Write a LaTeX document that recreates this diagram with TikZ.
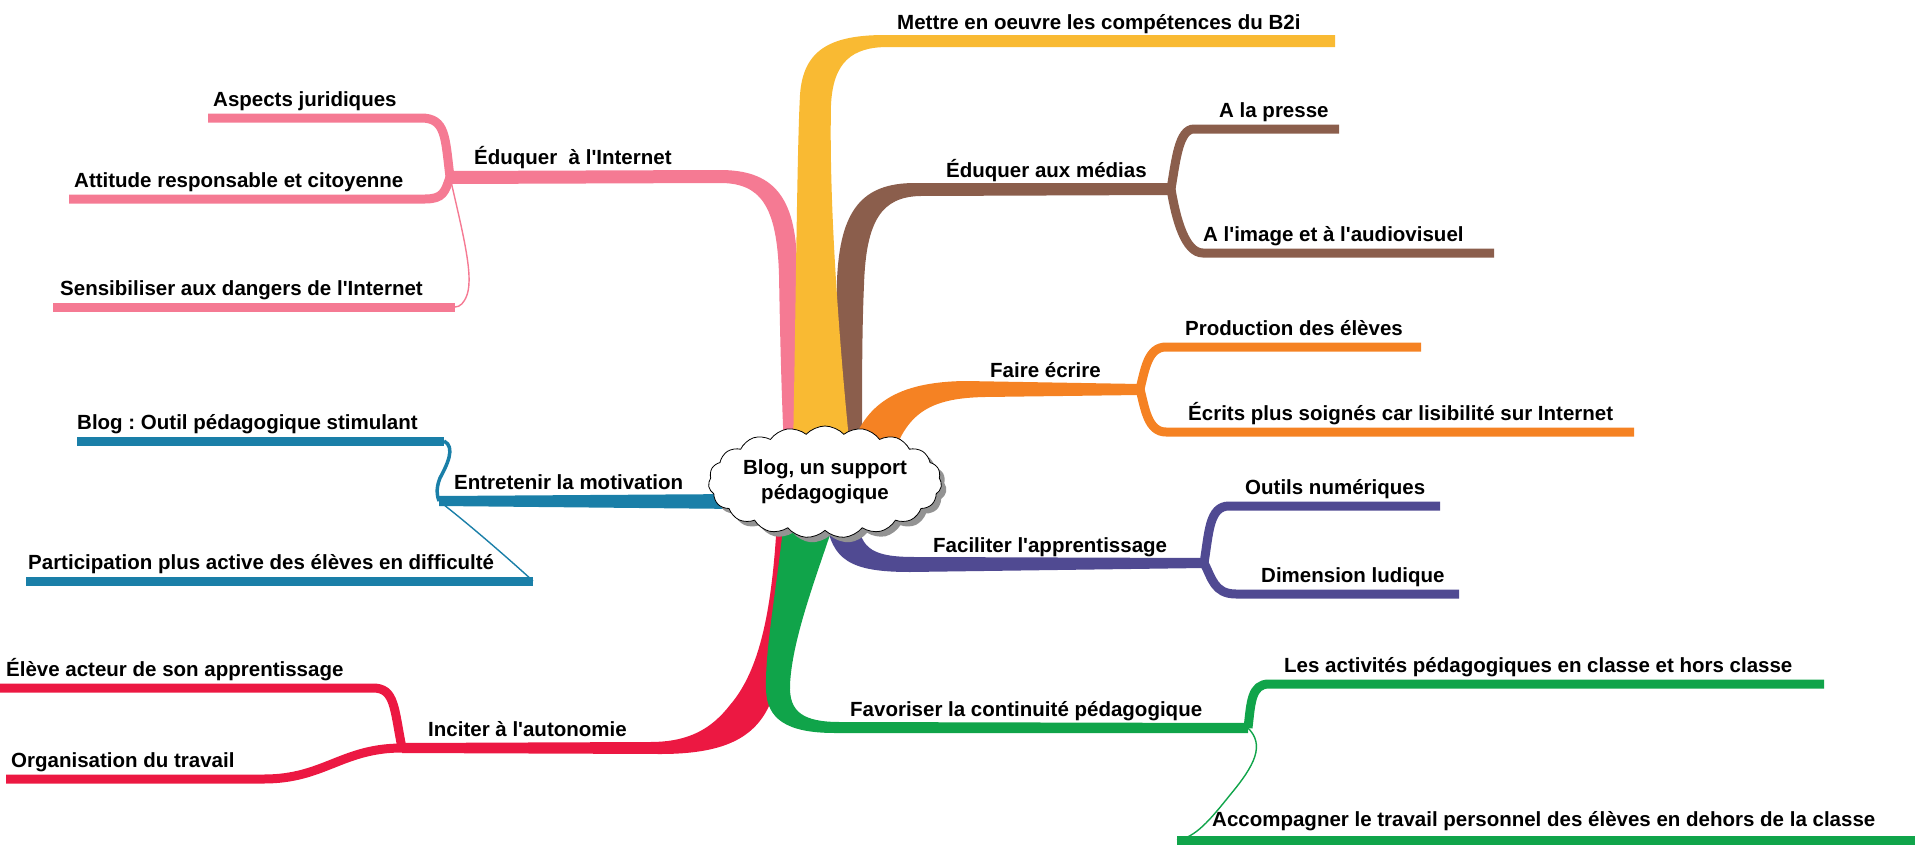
\documentclass[tikz,border=0pt]{standalone}
\usepackage{fontspec}
\setmainfont{Liberation Sans}[Ligatures=TeXOff]
\usetikzlibrary{shapes.symbols,shadows,calc}
\definecolor{cyel}{RGB}{249,186,51}
\definecolor{cpink}{RGB}{245,122,147}
\definecolor{cbrown}{RGB}{139,94,76}
\definecolor{corange}{RGB}{245,130,35}
\definecolor{cblue}{RGB}{26,127,168}
\definecolor{cpurple}{RGB}{80,74,146}
\definecolor{cred}{RGB}{236,24,66}
\definecolor{cgreen}{RGB}{16,164,74}
\frenchspacing
\tikzset{
  lbl/.style={anchor=base west,inner sep=0pt,font=\fontsize{20.5}{25}\selectfont\bfseries},
  subline/.style={line width=9pt},
  hair/.style={line width=1.4pt},
  wiggle/.style={line width=3.5pt},
}
\begin{document}
\begin{tikzpicture}[x=1pt,y=-1pt]
\useasboundingbox (0,0) rectangle (1915,846);
% branch points and line ends
\coordinate (pinkB) at (450,177);
\coordinate (brB) at (1171,189);
\coordinate (orB) at (1140,389);
\coordinate (blB) at (439,501);
\coordinate (puB) at (1204,563);
\coordinate (reB) at (402,748);
\coordinate (grB) at (1248,728);
\coordinate (yelE) at (1335,41);
\coordinate (aspL) at (208,118); \coordinate (aspR) at (421,118);
\coordinate (attL) at (69,199); \coordinate (attR) at (425,199);
\coordinate (sensL) at (53,307); \coordinate (sensR) at (455,307);
\coordinate (presL) at (1194,129); \coordinate (presR) at (1339,129);
\coordinate (imgL) at (1203,253); \coordinate (imgR) at (1494,253);
\coordinate (prodL) at (1166,347); \coordinate (prodR) at (1421,347);
\coordinate (ecrL) at (1166,432); \coordinate (ecrR) at (1634,432);
\coordinate (outL) at (1229,506); \coordinate (outR) at (1440,506);
\coordinate (dimL) at (1236,594); \coordinate (dimR) at (1459,594);
\coordinate (bloL) at (77,441); \coordinate (bloR) at (444,441);
\coordinate (parL) at (26,581); \coordinate (parR) at (533,581);
\coordinate (eleL) at (0,688); \coordinate (eleR) at (373,688);
\coordinate (orgL) at (6,779); \coordinate (orgR) at (264,779);
\coordinate (actL) at (1269,684); \coordinate (actR) at (1824,684);
\coordinate (accL) at (1177,840); \coordinate (accR) at (1915,840);

% main ribbons
\fill[cpink] ($(pinkB)+(0,-6)$) -- (720,170) .. controls (772,170) and (796,195) .. (797,265) .. controls (798,350) and (800,400) .. (802,450) -- (784,450) .. controls (781,380) and (780,330) .. (779,275) .. controls (777,205) and (760,183) .. (720,183) -- ($(pinkB)+(0,7)$) -- cycle;
\fill[cbrown] ($(brB)+(0,-6)$) -- (915,183) .. controls (862,183) and (840,210) .. (837,280) .. controls (835,350) and (840,400) .. (843,450) -- (862,450) .. controls (862,380) and (862,330) .. (864,285) .. controls (866,220) and (882,197) .. (920,196) -- ($(brB)+(0,6)$) -- cycle;
\fill[cyel] (793,450) .. controls (796,300) and (797,150) .. (800,95) .. controls (803,50) and (830,35) .. (885,35) -- ($(yelE)+(0,-6)$) -- ($(yelE)+(0,6)$) -- (888,47) .. controls (852,47) and (833,62) .. (831,105) .. controls (829,200) and (838,330) .. (850,450) -- cycle;
\fill[corange] (850,450) .. controls (865,405) and (895,382) .. (965,381) -- ($(orB)+(0,-5)$) -- ($(orB)+(0,6)$) -- (985,397) .. controls (935,398) and (910,410) .. (895,450) -- cycle;
\fill[cblue] ($(blB)+(0,-5)$) -- (740,494) -- (740,509) -- ($(blB)+(0,5)$) -- cycle;
\fill[cpurple] (826,520) .. controls (832,560) and (850,572) .. (910,572) -- ($(puB)+(0,5)$) -- ($(puB)+(0,-5)$) -- (915,557) .. controls (875,557) and (860,550) .. (858,520) -- cycle;
\fill[cred] (777,520) .. controls (772,610) and (760,670) .. (730,705) .. controls (712,728) and (690,742) .. (650,742) -- ($(reB)+(0,-5)$) -- ($(reB)+(0,5)$) -- (660,754) .. controls (730,754) and (762,735) .. (775,690) .. controls (783,650) and (786,600) .. (787,520) -- cycle;
\fill[cgreen] (784,520) .. controls (775,600) and (765,650) .. (766,690) .. controls (767,718) and (785,733) .. (835,733) -- ($(grB)+(0,5)$) -- ($(grB)+(0,-5)$) -- (840,722) .. controls (803,722) and (789,712) .. (790,685) .. controls (792,640) and (815,580) .. (835,520) -- cycle;

% sub-branches
\draw[subline,cpink] (aspL) -- (aspR) .. controls +(25,0) and +(-5,-40) .. (pinkB);
\draw[subline,cpink] (attL) -- (attR) .. controls +(18,0) and +(-5,15) .. (pinkB);
\draw[subline,cpink] (sensL) -- (sensR);
\draw[hair,cpink] (pinkB) .. controls (462,230) and (474,275) .. (467,295) .. controls (464,303) and (460,307) .. (sensR);
\draw[subline,cbrown] (presR) -- (presL) .. controls +(-15,0) and +(5,-30) .. (brB);
\draw[subline,cbrown] (imgR) -- (imgL) .. controls +(-18,0) and +(5,30) .. (brB);
\draw[subline,corange] (prodR) -- (prodL) .. controls +(-18,0) and +(5,-20) .. (orB);
\draw[subline,corange] (ecrR) -- (ecrL) .. controls +(-18,0) and +(5,20) .. (orB);
\draw[subline,cpurple] (outR) -- (outL) .. controls +(-20,0) and +(5,-30) .. (puB);
\draw[subline,cpurple] (dimR) -- (dimL) .. controls +(-22,0) and +(8,15) .. (puB);
\draw[subline,cblue] (bloL) -- (bloR);
\draw[wiggle,cblue] (bloR) .. controls (456,447) and (447,465) .. (440,478) .. controls (435,490) and (438,498) .. (blB);
\draw[subline,cblue] (parL) -- (parR);
\draw[hair,cblue] (blB) .. controls (470,525) and (510,560) .. (parR);
\draw[subline,cred] (eleL) -- (eleR) .. controls +(22,0) and +(-8,-40) .. (reB);
\draw[subline,cred] (orgL) -- (orgR) .. controls +(60,0) and +(-60,0) .. (reB);
\draw[subline,cgreen] (actR) -- (actL) .. controls +(-18,0) and +(3,-25) .. (grB);
\draw[subline,cgreen] (accL) -- (accR);
\draw[hair,cgreen] (grB) .. controls (1265,745) and (1255,765) .. (1230,795) .. controls (1210,820) and (1195,838) .. (accL);

% centre
\node[cloud, cloud puffs=19, cloud puff arc=95, cloud ignores aspect, draw, thick, fill=white,
      minimum width=228pt, minimum height=112pt, align=center, inner sep=0pt,
      drop shadow={shadow xshift=5pt, shadow yshift=-5pt, fill=gray!85, opacity=1},
      font=\fontsize{20.5}{25}\selectfont\bfseries] (centre) at (825,482) {Blog, un support\\pédagogique};

% labels
\node[lbl] (tMet) at (897,29) {Mettre en oeuvre les compétences du B2i};
\node[lbl] (tAsp) at (213,106) {Aspects juridiques};
\node[lbl] (tEdI) at (474,164) {Éduquer\ \ à l'Internet};
\node[lbl] (tAtt) at (74,187) {Attitude responsable et citoyenne};
\node[lbl] (tSen) at (60,295) {Sensibiliser aux dangers de l'Internet};
\node[lbl] (tPre) at (1219,117) {A la presse};
\node[lbl] (tEdM) at (946,177) {Éduquer aux médias};
\node[lbl] (tImg) at (1203,241) {A l'image et à l'audiovisuel};
\node[lbl] (tPro) at (1185,335) {Production des élèves};
\node[lbl] (tFai) at (990,377) {Faire écrire};
\node[lbl] (tEcr) at (1188,420) {Écrits plus soignés car lisibilité sur Internet};
\node[lbl] (tBlo) at (77,429) {Blog : Outil pédagogique stimulant};
\node[lbl] (tEnt) at (454,489) {Entretenir la motivation};
\node[lbl] (tPar) at (28,569) {Participation plus active des élèves en difficulté};
\node[lbl] (tOut) at (1245,494) {Outils numériques};
\node[lbl] (tFac) at (933,552) {Faciliter l'apprentissage};
\node[lbl] (tDim) at (1261,582) {Dimension ludique};
\node[lbl] (tEle) at (6,676) {Élève acteur de son apprentissage};
\node[lbl] (tInc) at (428,736) {Inciter à l'autonomie};
\node[lbl] (tOrg) at (11,767) {Organisation du travail};
\node[lbl] (tAct) at (1284,672) {Les activités pédagogiques en classe et hors classe};
\node[lbl] (tFav) at (850,716) {Favoriser la continuité pédagogique};
\node[lbl] (tAcc) at (1212,826) {Accompagner le travail personnel des élèves en dehors de la classe};
\end{tikzpicture}
\end{document}
